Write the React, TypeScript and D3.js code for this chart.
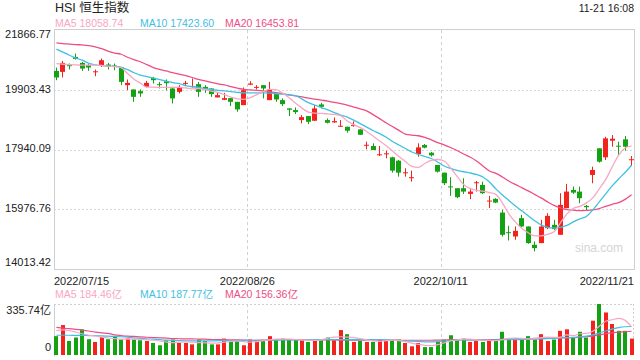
import React from 'react';
import * as d3 from 'd3';

const title = 'HSI 恒生指数';
const timeStamp = '11-21 16:08';
const dateLabels = ['2022/07/15', '2022/08/26', '2022/10/11', '2022/11/21'];
const dateLabelIdx = [0, 30, 60, 90];
const priceTicks = [14013.42, 15976.76, 17940.09, 19903.43, 21866.77];
const volMax = 335.74;

const open = [20523,20490,20710,20982,20785,20710,20490,20710,20732,20700,20634,20054,19913,19857,19998,20294,20087,20180,19946,19834,20120,19998,20087,19998,19946,19651,19572,19628,19506,19398,20070,19978,20054,19562,19759,19562,19290,19235,18907,19038,18884,19421,18907,18830,18700,18688,18730,18601,18083,18054,17770,17792,17683,17573,17168,17020,17792,18087,17835,17432,17179,16727,16668,16668,16481,16850,16776,16250,16317,15868,15223,15081,15684,15410,14809,14864,15356,15465,15137,16012,16612,16557,16087,17104,17979,17684,18229,18065,18274,17600];
const high = [20634,20850,20765,21093,20818,20765,20569,20929,20785,20765,20634,20241,19913,19913,20195,20326,20162,20241,19998,20054,20195,20274,20162,20054,19946,19801,19801,19628,19506,19978,20185,20054,20054,20162,19801,19618,19290,19323,19071,19038,19398,19474,18962,18995,18907,18688,18863,18601,18196,18143,18054,17901,17704,17595,17322,17245,18143,18120,17858,17432,17179,17028,16668,16995,16635,16907,16885,16415,16340,15956,15432,15410,15793,15410,14918,15629,15848,15629,16504,16810,16721,16721,16120,17376,17979,18360,18415,18196,18382,17726];
const low = [20218,20306,20569,20896,20523,20523,20349,20654,20569,20546,20054,19890,19506,19670,19978,20110,19946,19880,19454,19782,20021,19978,19670,19800,19670,19651,19562,19366,19179,19398,20054,19913,19618,19562,19506,19366,19038,19103,18798,18776,18884,19290,18798,18819,18688,18491,18688,18424,17946,17923,17726,17650,17179,17048,17048,16884,17704,17978,17704,17179,16775,16415,16340,16481,16307,16557,16481,16012,16176,15081,14950,14973,15388,14842,14590,14864,15323,15301,15137,16012,16481,16176,15934,16831,17507,17595,18032,17726,17901,17398];
const close = [20306,20785,20693,20916,20601,20634,20510,20874,20654,20687,20162,20130,19670,19782,20130,20218,20070,20120,19618,19998,20130,20021,19834,19923,19759,19726,19628,19506,19257,19890,20110,19998,19946,19913,19585,19431,19245,19169,19005,18851,19290,19343,18819,18874,18720,18557,18743,18424,18095,17923,17782,17814,17245,17179,17190,17030,18010,18000,17748,17212,16832,16700,16373,16557,16557,16864,16504,16262,16196,15137,15213,15268,15410,14864,14700,15410,15760,15323,16120,16557,16524,16340,16045,17267,17540,18306,18295,18054,18032,17620];

const ma5 = [20759,20742,20733,20723,20710,20710,20710,20703,20677,20660,20628,20438,20251,20120,19988,19988,19982,19979,19979,19979,19962,19933,19939,19907,19857,19815,19743,19661,19602,19589,19644,19743,19841,19913,19907,19792,19644,19464,19300,19169,19136,19126,19110,19094,19054,18874,18759,18661,18530,18382,18218,18071,17891,17710,17546,17382,17350,17481,17579,17612,17563,17333,17055,16792,16661,16596,16570,16524,16465,16186,15825,15563,15350,15203,15104,15104,15153,15235,15530,15825,16006,16071,16186,16350,16645,16956,17366,17759,17989,18058.74];
const ma10 = [21241,21142,21037,20946,20874,20769,20723,20693,20677,20670,20644,20562,20464,20382,20333,20284,20234,20185,20136,20103,20038,20005,19979,19939,19907,19884,19864,19841,19818,19802,19802,19802,19802,19792,19775,19759,19736,19710,19595,19480,19398,19316,19241,19153,19071,19005,18907,18792,18677,18563,18464,18349,18202,18087,17973,17858,17776,17710,17645,17530,17399,17317,17251,17209,17169,17120,17038,16874,16645,16448,16268,16088,15924,15760,15596,15465,15383,15357,15383,15448,15563,15662,15737,15957,16219,16481,16743,16973,17186,17423.6];
const ma20 = [21441,21421,21405,21388,21375,21355,21316,21257,21169,21110,21070,20972,20890,20824,20726,20634,20572,20520,20464,20415,20365,20306,20241,20195,20146,20097,20061,20005,19956,19913,19897,19884,19867,19841,19808,19775,19736,19700,19667,19628,19595,19562,19530,19490,19448,19398,19333,19277,19212,19087,18956,18818,18694,18569,18448,18415,18392,18340,18258,18169,18094,18005,17907,17792,17694,17563,17399,17235,17153,17038,16907,16792,16688,16579,16465,16350,16219,16104,16022,15963,15947,15934,15940,15957,15999,16071,16137,16196,16301,16453.81];

const volume = [124,197,92,115,169,104,86,119,104,124,102,108,102,97,92,79,64,97,102,79,79,70,102,92,70,70,108,92,97,64,102,97,92,124,102,108,102,102,97,86,97,97,115,97,164,137,86,92,86,86,102,92,97,102,79,57,79,52,52,92,102,130,97,108,86,92,86,102,92,153,102,102,102,124,102,137,92,102,159,169,115,153,115,226,335.74,280,204,159,159,108];
const vma5 = [160,165,160,150,140,130,125,118,112,108,105,105,104,103,100,97,92,85,82,84,86,85,82,80,78,80,85,90,92,88,85,88,95,100,104,105,104,102,100,98,96,100,110,118,120,118,114,108,100,92,90,94,97,95,88,78,70,64,62,68,80,92,100,105,104,100,98,96,94,102,110,112,110,106,108,115,118,116,118,132,127,140,142,156,189,222,232,241,228,184.46];
const vma10 = [130,130,130,129,129,128,127,126,124,122,120,117,113,110,107,104,101,98,96,94,93,93,93,93,93,94,94,95,96,96,97,97,97,98,98,99,99,100,100,101,101,101,101,101,101,101,101,101,101,101,100,99,97,95,93,91,89,87,86,88,92,96,98,99,100,99,98,98,99,100,101,101,102,103,104,106,108,110,112,114,116,120,124,132,145,158,170,180,186,187.77];
const vma20 = [182,177,173,169,164,158,151,146,142,133,128,124,122,119,117,115,113,111,108,107,106,106,105,104,102,101,101,100,99,98,97,97,98,99,100,101,101,101,101,101,101,100,99,99,98,98,98,98,99,99,99,98,98,97,97,97,97,97,97,98,98,101,101,100,100,100,101,101,102,103,104,106,107,108,109,110,111,112,113,114,115,118,120,124,133,141,146,150,153,156.36];

const C_UP = '#f2231d';
const C_DOWN = '#14a214';
const C_MA5 = '#f9a6c4';
const C_MA10 = '#3ec0e2';
const C_MA20 = '#ee4d84';
const FONT = '"Liberation Sans", Arial, "Noto Sans CJK SC", sans-serif';

export default function App() {
  const W = 640, H = 360;
  const L = 54, R = 634, T = 30, B = 269;
  const VT = 304, VB = 355;
  const n = close.length;

  const x = d3.scaleBand<number>().domain(d3.range(n)).range([L, R]).paddingInner(0.25);
  const cx = (i: number) => (x(i) as number) + x.bandwidth() / 2;
  const y = d3.scaleLinear().domain([priceTicks[0], priceTicks[priceTicks.length - 1]]).range([B, T]);
  const vy = d3.scaleLinear().domain([0, volMax]).range([VB, VT]);
  const xl = d3.scaleLinear().domain([0, n]).range([L, R]);

  const line = d3.line<number>().x((_, i) => cx(i)).y(d => y(d)).curve(d3.curveMonotoneX);
  const vline = d3.line<number>().x((_, i) => cx(i)).y(d => vy(d)).curve(d3.curveMonotoneX);

  const fmt = (v: number) => v.toFixed(2);
  const last = (a: number[]) => a[a.length - 1];

  const legend = (yy: number, items: { c: string; t: string; x: number }[]) =>
    items.map((it, k) => (
      <text key={k} x={it.x} y={yy} fill={it.c} fontSize={10.5} dominantBaseline="middle">{it.t}</text>
    ));

  return (
    <svg width={W} height={H} style={{ position: 'absolute', left: 0, top: 0, background: '#fff' }} fontFamily={FONT}>
      <rect x={0} y={0} width={W} height={H} fill="#fff" />
      <text x={55} y={9} fontSize={12.5} fill="#222" dominantBaseline="middle">{title}</text>
      <text x={R} y={9} fontSize={10.5} fill="#222" textAnchor="end" dominantBaseline="middle">{timeStamp}</text>
      {legend(24, [
        { c: C_MA5, t: `MA5 ${fmt(last(ma5))}`, x: 55 },
        { c: C_MA10, t: `MA10 ${fmt(last(ma10))}`, x: 140 },
        { c: C_MA20, t: `MA20 ${fmt(last(ma20))}`, x: 225 },
      ])}

      {/* main grid */}
      {priceTicks.slice(1, -1).map((v, k) => (
        <line key={k} x1={L} x2={R} y1={Math.round(y(v)) + 0.5} y2={Math.round(y(v)) + 0.5} stroke="#d8d8d8" strokeDasharray="2,2" />
      ))}
      {dateLabelIdx.slice(1, -1).map((d, k) => (
        <g key={k}>
          <line x1={Math.round(xl(d)) + 0.5} x2={Math.round(xl(d)) + 0.5} y1={T} y2={B} stroke="#d0d0d0" strokeDasharray="3,3" />
          <line x1={Math.round(xl(d)) + 0.5} x2={Math.round(xl(d)) + 0.5} y1={VT} y2={VB} stroke="#d0d0d0" strokeDasharray="3,3" />
        </g>
      ))}
      <rect x={L + 0.5} y={T - 0.5} width={R - L} height={B - T + 1} fill="none" stroke="#cfcfcf" />

      {/* y labels */}
      {priceTicks.map((v, k) => (
        <text key={k} x={51} y={Math.min(Math.max(y(v), T + 5), B - 6)} fontSize={11} fill="#222" textAnchor="end" dominantBaseline="middle">{fmt(v)}</text>
      ))}
      {/* x labels */}
      {dateLabels.map((d, k) => (
        <text key={k} x={xl(dateLabelIdx[k])} y={282} fontSize={11} fill="#222" dominantBaseline="middle"
          textAnchor={k === 0 ? 'start' : k === dateLabels.length - 1 ? 'end' : 'middle'}>{d}</text>
      ))}

      <text x={623} y={249} fontSize={12} fill="#d4d4d4" textAnchor="end" dominantBaseline="middle">sina.com</text>

      {/* candles */}
      {close.map((c, i) => {
        const o = open[i];
        const up = c >= o;
        const col = up ? C_UP : C_DOWN;
        const x0 = Math.round(cx(i) - 2.5);
        const yt = y(Math.max(o, c));
        const yb = y(Math.min(o, c));
        return (
          <g key={i}>
            <line x1={x0 + 2.5} x2={x0 + 2.5} y1={y(high[i])} y2={y(low[i])} stroke={col} strokeWidth={1} />
            <rect x={x0} y={yt} width={5} height={Math.max(1, yb - yt)} fill={col} />
          </g>
        );
      })}

      <path d={line(ma20) || ''} fill="none" stroke={C_MA20} strokeWidth={1.3} />
      <path d={line(ma10) || ''} fill="none" stroke={C_MA10} strokeWidth={1.3} />
      <path d={line(ma5) || ''} fill="none" stroke={C_MA5} strokeWidth={1.3} />

      {/* volume */}
      {legend(295, [
        { c: C_MA5, t: `MA5 ${fmt(last(vma5))}亿`, x: 55 },
        { c: C_MA10, t: `MA10 ${fmt(last(vma10))}亿`, x: 140 },
        { c: C_MA20, t: `MA20 ${fmt(last(vma20))}亿`, x: 225 },
      ])}
      <line x1={L} x2={R} y1={VT + 0.5} y2={VT + 0.5} stroke="#d0d0d0" strokeDasharray="2,2" />
      <line x1={R - 0.5} x2={R - 0.5} y1={VT} y2={VB} stroke="#d0d0d0" strokeDasharray="2,2" />
      <line x1={L + 0.5} x2={L + 0.5} y1={VT} y2={VB + 1} stroke="#cfcfcf" />
      <text x={51} y={VT + 7} fontSize={11} fill="#222" textAnchor="end" dominantBaseline="middle">{`${fmt(volMax)}亿`}</text>
      <text x={51} y={VB - 7} fontSize={11} fill="#222" textAnchor="end" dominantBaseline="middle">0</text>
      {volume.map((v, i) => {
        const col = close[i] >= open[i] ? C_UP : C_DOWN;
        const x0 = Math.round(cx(i) - 2);
        return <rect key={i} x={x0} y={vy(v)} width={4} height={VB - vy(v)} fill={col} />;
      })}
      <path d={vline(vma20) || ''} fill="none" stroke={C_MA20} strokeWidth={1.2} />
      <path d={vline(vma10) || ''} fill="none" stroke={C_MA10} strokeWidth={1.2} />
      <path d={vline(vma5) || ''} fill="none" stroke={C_MA5} strokeWidth={1.2} />
    </svg>
  );
}
